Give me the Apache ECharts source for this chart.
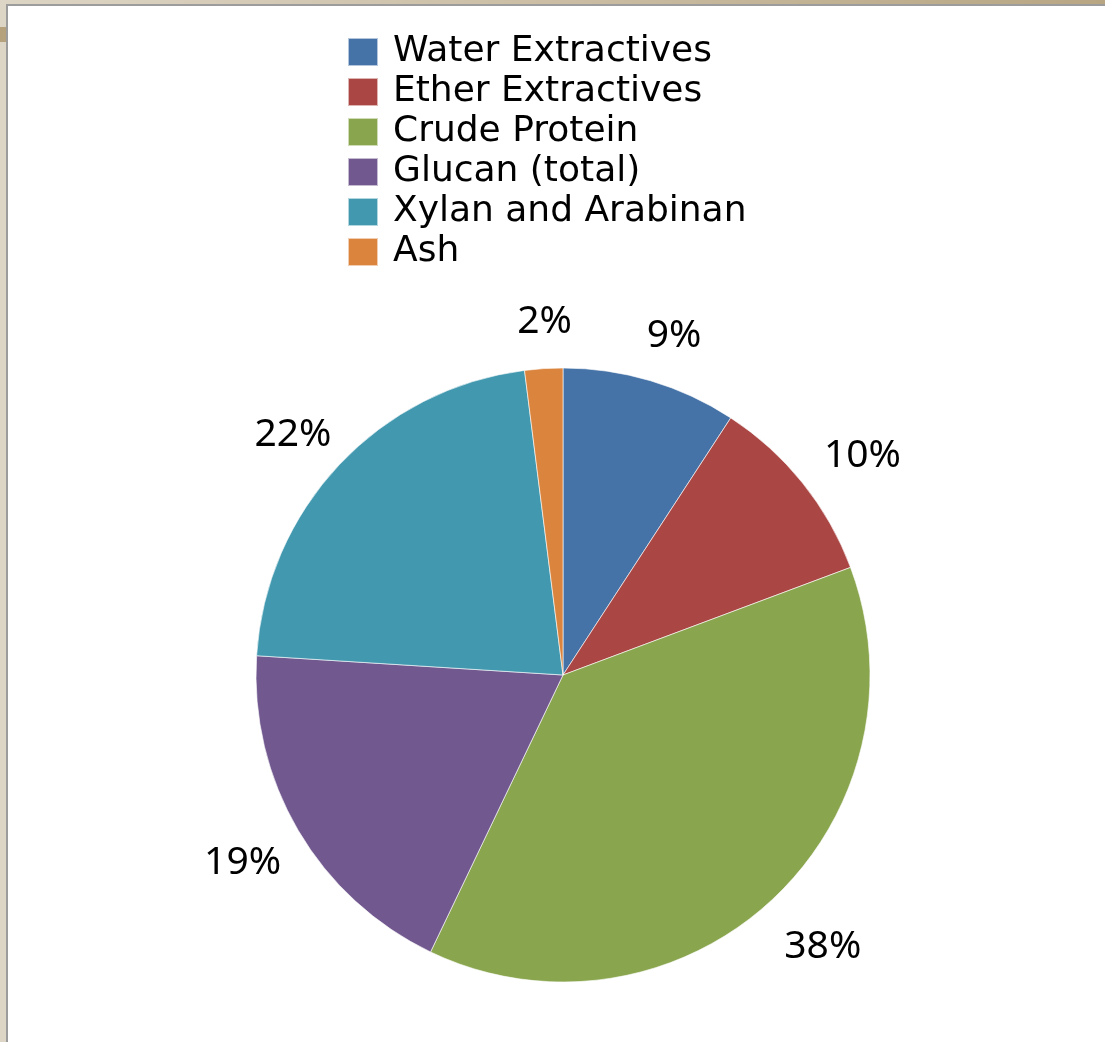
<!DOCTYPE html>
<html>
<head>
<meta charset="utf-8">
<script src="https://cdn.jsdelivr.net/npm/echarts@6/dist/echarts.min.js"></script>
<style>
  html, body { margin: 0; padding: 0; background: #ffffff; }
  #frameTop { position: absolute; left: 0; top: 0; width: 1105px; height: 4px; background: linear-gradient(to right, #ddd5c5, #b8a683); }
  #frameTopLine { position: absolute; left: 6px; top: 4px; width: 1099px; height: 2px; background: #9c9c9c; }
  #frameLeft { position: absolute; left: 0; top: 0; width: 6px; height: 1042px; background: #ddd6c6; }
  #frameLeftLine { position: absolute; left: 6px; top: 4px; width: 2px; height: 1038px; background: #9c9c9c; }
  #frameTab { position: absolute; left: 0; top: 27px; width: 6px; height: 15px; background: #b5a27c; }
  #chart { position: absolute; left: 0; top: 0; width: 1105px; height: 1042px; }
</style>
</head>
<body>
<div id="frameTop"></div>
<div id="frameLeft"></div>
<div id="frameTab"></div>
<div id="frameTopLine"></div>
<div id="frameLeftLine"></div>
<div id="chart"></div>
<script>
const categories = ['Water Extractives', 'Ether Extractives', 'Crude Protein', 'Glucan (total)', 'Xylan and Arabinan', 'Ash'];
const values = [9.2, 10.1, 37.8, 18.9, 22.0, 2.0];
const colors = ['#4572A7', '#AA4643', '#89A54E', '#71588F', '#4198AF', '#DB843D'];

const chart = echarts.init(document.getElementById('chart'), null, { renderer: 'canvas' });
const LEGEND_FONT = '"DejaVu Sans", sans-serif';
const LABEL_FONT = '"Noto Sans", sans-serif';

chart.setOption({
  animation: false,
  color: colors,
  legend: {
    orient: 'vertical',
    left: 342,
    top: 29,
    itemWidth: 30,
    itemHeight: 28,
    itemGap: 4,
    icon: 'rect',
    selectedMode: false,
    textStyle: { fontFamily: LEGEND_FONT, fontSize: 36, color: '#000', padding: [0, 0, 0, 10] },
    data: categories
  },
  series: [{
    type: 'pie',
    center: [563, 675],
    radius: [0, 307],
    startAngle: 90,
    clockwise: true,
    percentPrecision: 0,
    avoidLabelOverlap: false,
    itemStyle: { borderColor: 'rgba(255,255,255,0.6)', borderWidth: 1 },
    label: {
      show: true,
      position: 'outside',
      formatter: '{d}%',
      fontFamily: LABEL_FONT,
      fontSize: 39,
      color: '#000',
      distanceToLabelLine: 0
    },
    labelLine: { show: true, length: 53, length2: 0, lineStyle: { width: 0, opacity: 0 } },
    labelLayout: function (p) {
      const pts = p.labelLinePoints;
      if (!pts || pts.length < 2) return {};
      const vx = pts[1][0] - pts[0][0], vy = pts[1][1] - pts[0][1];
      const len = Math.sqrt(vx * vx + vy * vy) || 1;
      const ux = vx / len;
      return {
        x: pts[1][0] + 0.45 * (p.labelRect.width / 2) * ux + 5,
        y: pts[1][1] + 6,
        align: 'center',
        verticalAlign: 'middle'
      };
    },
    emphasis: { disabled: true },
    data: categories.map((c, i) => ({ name: c, value: values[i] }))
  }]
});
</script>
</body>
</html>
